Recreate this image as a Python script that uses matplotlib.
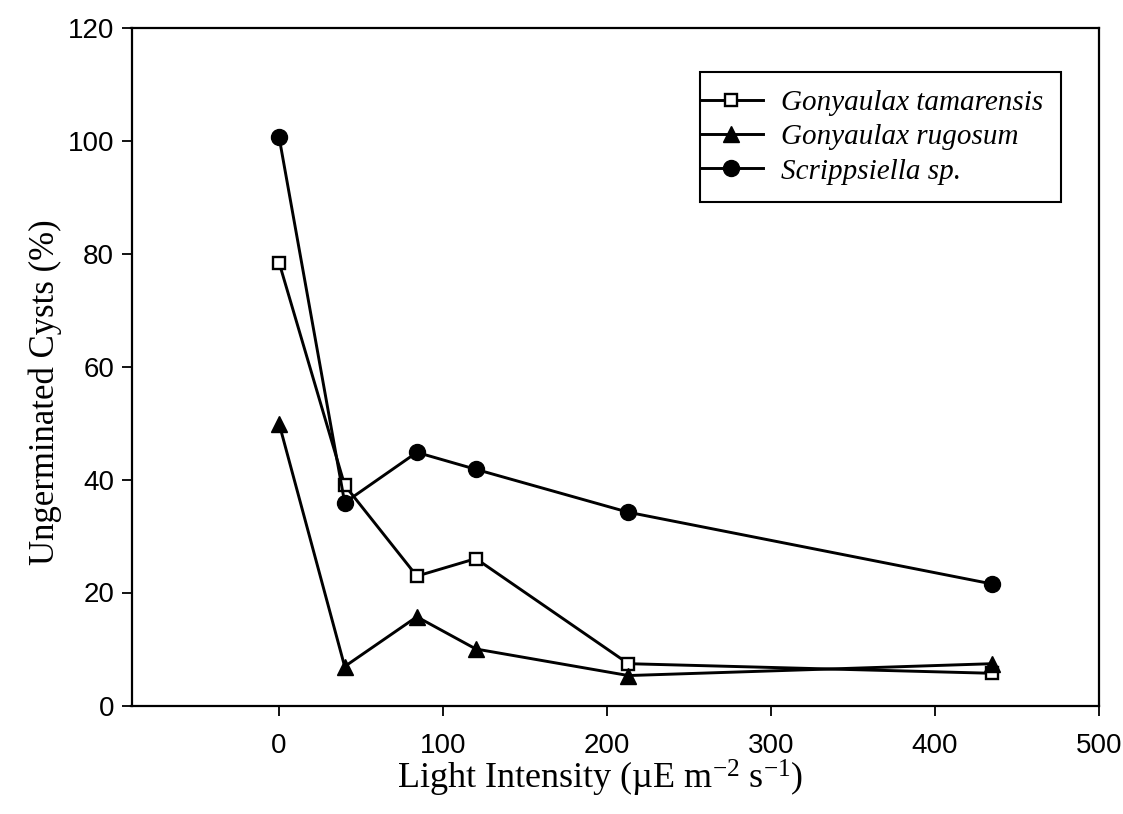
import numpy as np
import matplotlib.pyplot as plt
from matplotlib.legend_handler import HandlerLine2D

plt.rcParams['mathtext.fontset'] = 'custom'
plt.rcParams['mathtext.rm'] = 'Liberation Serif'
plt.rcParams['mathtext.it'] = 'Liberation Serif:italic'

# light intensity levels (uE m-2 s-1)
light = [0, 40, 84, 120, 213, 435]

# ungerminated cysts (%)
g_tamarensis = [78.4, 39.0, 22.9, 26.0, 7.4, 5.7]
g_rugosum = [49.9, 6.9, 15.7, 10.0, 5.3, 7.4]
scrippsiella = [100.6, 35.9, 44.8, 41.8, 34.2, 21.5]

labels = ['Gonyaulax tamarensis', 'Gonyaulax rugosum', 'Scrippsiella sp.']

fig = plt.figure(figsize=(11.23, 8.14), dpi=100)
ax = fig.add_axes([131.5 / 1123, 1 - 705.5 / 814, (1099 - 131.5) / 1123, (705.5 - 27.5) / 814])

lw = 2.1
ax.plot(light, g_tamarensis, '-s', color='black', lw=lw, ms=9,
        mfc='white', mec='black', mew=1.7, label=labels[0])
ax.plot(light, g_rugosum, '-^', color='black', lw=lw, ms=11,
        mfc='black', mec='black', label=labels[1])
ax.plot(light, scrippsiella, '-o', color='black', lw=lw, ms=11.5,
        mfc='black', mec='black', label=labels[2])

ax.set_xlim(-90, 500)
ax.set_ylim(0, 120)
ax.set_xticks(np.arange(0, 501, 100))
ax.set_yticks(np.arange(0, 121, 20))
ax.tick_params(direction='out', length=7, width=1.3, labelsize=20)
ax.tick_params(axis='x', pad=13)
ax.tick_params(axis='y', pad=5.5)
for lab in ax.get_xticklabels() + ax.get_yticklabels():
    lab.set_family('Liberation Sans')
for s in ax.spines.values():
    s.set_linewidth(1.6)

ax.set_xlabel('Light Intensity (µE m$^{-2}$ s$^{-1}$)',
              family='Liberation Serif', fontsize=26)
ax.set_ylabel('Ungerminated Cysts (%)', family='Liberation Serif', fontsize=25)
ax.xaxis.set_label_coords(0.484, -0.078)
ax.yaxis.set_label_coords(-0.072, 0.462)

# handles run out to the frame edge
bp = 0.6
hmap = {ln: HandlerLine2D(xpad=-bp) for ln in ax.get_lines()}
leg = ax.legend(loc='upper left', bbox_to_anchor=((700 - 131.5) / 967.5, (705.5 - 72) / 678),
                prop={'family': 'Liberation Serif', 'style': 'italic', 'size': 21},
                frameon=True, fancybox=False, edgecolor='black', framealpha=1,
                borderpad=bp, labelspacing=0.27, handlelength=1.55, handletextpad=0.62,
                borderaxespad=0, handler_map=hmap)
leg.get_frame().set_linewidth(1.5)

fig.savefig('out.png', dpi=100)
